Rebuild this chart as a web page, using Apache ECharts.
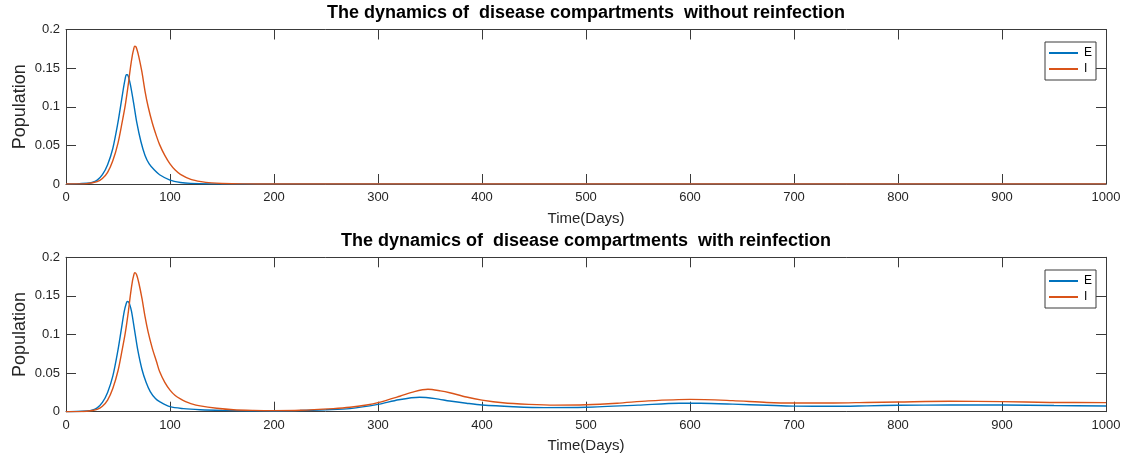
<!DOCTYPE html>
<html>
<head>
<meta charset="utf-8">
<script src="https://cdn.jsdelivr.net/npm/echarts@6/dist/echarts.min.js"></script>
<style>html,body{margin:0;padding:0;background:#fff;}#c{width:1139px;height:459px;}</style>
</head>
<body>
<div id="c"></div>
<script>
// ---- data ----
const titles = ['The dynamics of  disease compartments  without reinfection', 'The dynamics of  disease compartments  with reinfection'];
const xTicks = [0, 100, 200, 300, 400, 500, 600, 700, 800, 900, 1000];
const yTicks = [0, 0.05, 0.1, 0.15, 0.2];

const tTopE = [0, 10, 20, 25, 30, 35, 40, 45, 50, 53, 55, 57, 58, 59, 60, 62, 65, 68, 72, 76, 80, 85, 90, 100, 110, 120, 140, 160, 200, 1000];
const eTop  = [0, 0.0002, 0.001, 0.002, 0.005, 0.012, 0.025, 0.046, 0.08, 0.105, 0.122, 0.137, 0.1415, 0.1415, 0.139, 0.128, 0.105, 0.08, 0.055, 0.037, 0.026, 0.018, 0.012, 0.005, 0.002, 0.0008, 0.0002, 0.00005, 0, 0];

const tTopI = [0, 10, 20, 30, 35, 40, 45, 50, 54, 57, 60, 62, 64, 65, 66, 67, 68, 70, 73, 76, 79, 83, 87, 90, 95, 100, 105, 110, 120, 130, 140, 150, 170, 200, 250, 1000];
const iTop  = [0, 0.0001, 0.0005, 0.003, 0.007, 0.015, 0.03, 0.053, 0.08, 0.102, 0.13, 0.151, 0.168, 0.174, 0.1785, 0.178, 0.175, 0.165, 0.145, 0.12, 0.1, 0.079, 0.062, 0.051, 0.037, 0.026, 0.018, 0.0125, 0.006, 0.003, 0.0014, 0.0007, 0.0002, 0.00005, 0, 0];

const tBotE = [0, 10, 20, 25, 30, 35, 40, 45, 50, 53, 56, 58, 59, 60, 61, 63, 66, 69, 73, 77, 81, 86, 90, 100, 113, 129, 150, 175, 200, 225, 250, 273, 300, 320, 340, 355, 369, 385, 400, 430, 460, 500, 550, 590, 610, 641, 674, 700, 738, 770, 800, 850, 900, 950, 1000];
const eBot  = [0, 0.0002, 0.001, 0.002, 0.005, 0.012, 0.025, 0.046, 0.08, 0.105, 0.13, 0.1405, 0.1428, 0.1425, 0.14, 0.13, 0.105, 0.08, 0.055, 0.038, 0.026, 0.017, 0.013, 0.0065, 0.004, 0.0026, 0.0017, 0.0012, 0.001, 0.0015, 0.0025, 0.004, 0.0095, 0.0155, 0.0187, 0.017, 0.0139, 0.011, 0.0087, 0.0065, 0.0053, 0.0058, 0.0085, 0.011, 0.0109, 0.0098, 0.0083, 0.0072, 0.007, 0.0076, 0.0083, 0.0087, 0.0087, 0.008, 0.0074];

const tBotI = [0, 10, 20, 30, 35, 40, 45, 50, 54, 57, 60, 62, 64, 65, 66, 67, 68, 70, 73, 76, 79, 83, 87, 90, 95, 100, 105, 110, 115, 120, 129, 145, 161, 180, 200, 225, 257, 273, 289, 300, 321, 335, 348, 360, 369, 385, 400, 420, 445, 470, 500, 530, 560, 600, 641, 674, 700, 738, 770, 800, 850, 900, 946, 1000];
const iBot  = [0, 0.0001, 0.0005, 0.003, 0.007, 0.015, 0.03, 0.053, 0.08, 0.102, 0.13, 0.152, 0.17, 0.176, 0.18, 0.1795, 0.177, 0.167, 0.147, 0.123, 0.103, 0.082, 0.065, 0.052, 0.038, 0.028, 0.021, 0.0165, 0.013, 0.0105, 0.0075, 0.0044, 0.0025, 0.0017, 0.0014, 0.0018, 0.004, 0.0057, 0.0087, 0.0117, 0.02, 0.026, 0.029, 0.027, 0.0246, 0.019, 0.015, 0.0115, 0.0095, 0.0085, 0.009, 0.011, 0.014, 0.016, 0.0143, 0.012, 0.0113, 0.0113, 0.012, 0.0126, 0.0135, 0.013, 0.012, 0.0118];

const seriesNames = ['E', 'I'];
const colors = ['#0072BD', '#D95319'];

// ---- chart ----
const FONT = '"Liberation Sans", Arial, Helvetica, sans-serif';
const AX = '#3a3a3a';
const TXT = '#262626';
const zip = (t, v) => t.map((x, i) => [x, v[i]]);

const grids = [
  { left: 66, right: 33, top: 29.5, height: 154.5, containLabel: false, outerBoundsMode: 'none' },
  { left: 66, right: 33, top: 257.3, height: 154.4, containLabel: false, outerBoundsMode: 'none' }
];

function xAx(gi, pos, labels) {
  return {
    type: 'value', gridIndex: gi, position: pos, min: xTicks[0], max: xTicks[xTicks.length - 1], interval: xTicks[1] - xTicks[0],
    name: labels ? 'Time(Days)' : '', nameLocation: 'middle', nameGap: 27, nameMoveOverlap: false,
    nameTextStyle: { fontFamily: FONT, fontSize: 15, color: TXT },
    axisLine: { show: true, onZero: false, lineStyle: { color: AX, width: 1 } },
    axisTick: { show: true, inside: true, length: 10, lineStyle: { color: AX } },
    axisLabel: { show: labels, fontFamily: FONT, fontSize: 13, color: TXT, margin: 7,
      formatter: v => String(v) },
    splitLine: { show: false }
  };
}
function yAx(gi, pos, labels) {
  return {
    type: 'value', gridIndex: gi, position: pos, min: yTicks[0], max: yTicks[yTicks.length - 1], interval: yTicks[1] - yTicks[0],
    name: labels ? 'Population' : '', nameLocation: 'middle', nameGap: 37, nameMoveOverlap: false,
    nameTextStyle: { fontFamily: FONT, fontSize: 18, color: TXT },
    axisLine: { show: true, onZero: false, lineStyle: { color: AX, width: 1 } },
    axisTick: { show: true, inside: true, length: 10, lineStyle: { color: AX } },
    axisLabel: { show: labels, fontFamily: FONT, fontSize: 13, color: TXT, margin: 6,
      formatter: v => String(+v.toFixed(2)) },
    splitLine: { show: false }
  };
}

function line(name, data, gi, ci) {
  return {
    name: name, type: 'line', xAxisIndex: gi * 2, yAxisIndex: gi * 2,
    data: data, showSymbol: false, symbol: 'none', smooth: 0.3,
    lineStyle: { color: colors[ci], width: 1.4 }, itemStyle: { color: colors[ci] },
    animation: false
  };
}

function legend(top) {
  return {
    orient: 'vertical', left: 1045, top: top,
    data: seriesNames.map(n => ({ name: n, icon: 'rect' })),
    itemWidth: 29, itemHeight: 2, itemGap: 2,
    padding: [4, 4, 4, 4],
    borderColor: AX, borderWidth: 1, backgroundColor: '#fff',
    textStyle: { fontFamily: FONT, fontSize: 12, color: '#000', lineHeight: 14, padding: [0, 0, 0, 1] },
    selectedMode: false
  };
}

const chart = echarts.init(document.getElementById('c'), null, { renderer: 'canvas' });
chart.setOption({
  animation: false,
  backgroundColor: '#fff',
  color: colors,
  title: titles.map((t, i) => ({
    text: t, left: 586, textAlign: 'center', top: i === 0 ? 4 : 232, padding: 0,
    textStyle: { fontFamily: FONT, fontSize: 18, fontWeight: 'bold', color: '#000' }
  })),
  grid: grids,
  xAxis: [xAx(0, 'bottom', true), xAx(0, 'top', false), xAx(1, 'bottom', true), xAx(1, 'top', false)],
  yAxis: [yAx(0, 'left', true), yAx(0, 'right', false), yAx(1, 'left', true), yAx(1, 'right', false)],
  legend: [legend(42), legend(270)],
  series: [
    line('E', zip(tTopE, eTop), 0, 0),
    line('I', zip(tTopI, iTop), 0, 1),
    line('E', zip(tBotE, eBot), 1, 0),
    line('I', zip(tBotI, iBot), 1, 1)
  ]
});
</script>
</body>
</html>
